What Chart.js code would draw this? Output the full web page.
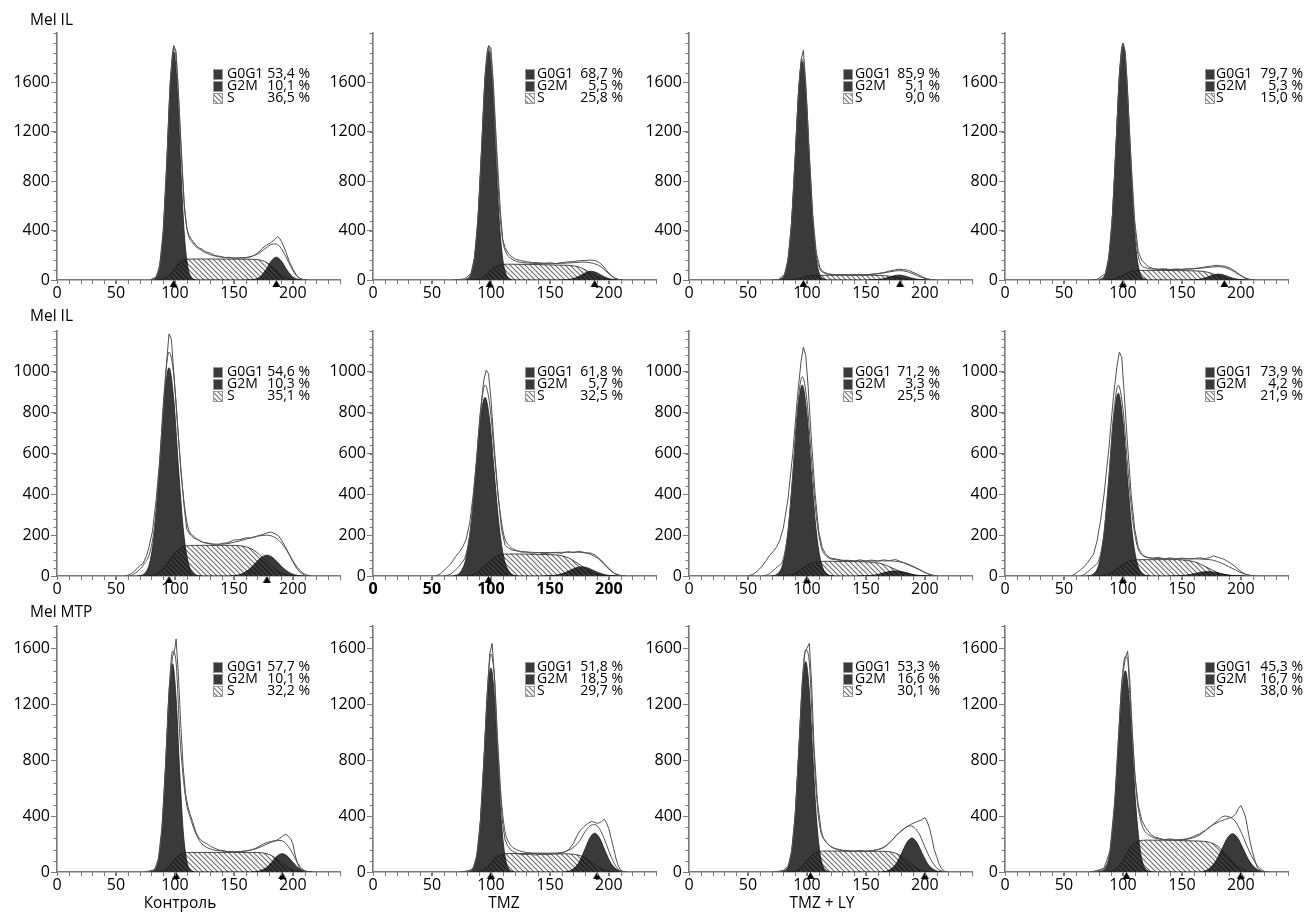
<!DOCTYPE html>
<html>
<head>
<meta charset="utf-8">
<script src="https://cdn.jsdelivr.net/npm/chart.js@4.4.1/dist/chart.umd.min.js"></script>
<style>
  body { margin: 0; background: #fff; width: 1305px; height: 916px; overflow: hidden; position: relative; font-family: "Open Sans", "DejaVu Sans", sans-serif; }
  canvas { position: absolute; }
  .lbl { position: absolute; font-size: 15.5px; line-height: 18px; color: #000; white-space: nowrap; }
</style>
</head>
<body>
<script>
// panel order: row by row (Mel IL, Mel IL, Mel MTP), columns Контроль, TMZ, TMZ + LY, 4th
const rowLabels = ['Mel IL', 'Mel IL', 'Mel MTP'];
const colLabels = ['Контроль', 'TMZ', 'TMZ + LY'];
const phaseNames = ['G0G1', 'G2M', 'S'];
const pctG0G1 = ['53,4', '68,7', '85,9', '79,7', '54,6', '61,8', '71,2', '73,9', '57,7', '51,8', '53,3', '45,3'];
const pctG2M = ['10,1', '5,5', '5,1', '5,3', '10,3', '5,7', '3,3', '4,2', '10,1', '18,5', '16,6', '16,7'];
const pctS = ['36,5', '25,8', '9,0', '15,0', '35,1', '32,5', '25,5', '21,9', '32,2', '29,7', '30,1', '38,0'];

const xTicks = [0, 50, 100, 150, 200];
const xMax = 240;
const yTicksByRow = [[0, 400, 800, 1200, 1600], [0, 200, 400, 600, 800, 1000], [0, 400, 800, 1200, 1600]];
const yMaxByRow = [2000, 1200, 1760];
const yMinorByRow = [80, 40, 80];

// triangles under the axis: G0G1 and G2M peak positions
const g1Marks = [99, 99, 97, 100, 95, 98, 100, 100, 101, 100, 103, 103];
const g2Marks = [186, 188, 179, 186, 178, null, null, null, 191, 190, 200, 200];

// G0G1 component (dark peak)
const g1Peaks = [
  [[80,0],[84,20],[87,104],[90,366],[93,901],[96,1545],[99,1850],[102,1545],[105,901],[108,366],[111,104],[114,20],[118,0]],
  [[78,0],[83,45],[86,173],[89,487],[92,1027],[95,1603],[98,1860],[101,1603],[104,1027],[107,487],[110,173],[113,45],[118,0]],
  [[76,0],[81,42],[84,165],[87,464],[90,977],[93,1526],[96,1770],[99,1526],[102,977],[105,464],[108,165],[111,42],[116,0]],
  [[80,0],[85,46],[88,177],[91,498],[94,1049],[97,1638],[100,1900],[103,1638],[106,1049],[109,498],[112,177],[115,46],[120,0]],
  [[68,0],[74,11],[79,74],[83,235],[87,531],[91,866],[95,1020],[99,866],[103,531],[107,235],[111,74],[116,11],[122,0]],
  [[68,0],[74,18],[79,90],[83,243],[87,495],[91,760],[95,875],[99,760],[103,495],[107,243],[111,90],[116,18],[122,0]],
  [[69,0],[75,10],[80,68],[84,215],[88,487],[92,794],[96,935],[100,794],[104,487],[108,215],[112,68],[117,10],[123,0]],
  [[69,0],[75,10],[80,65],[84,206],[88,466],[92,760],[96,895],[100,760],[104,466],[108,206],[112,65],[117,10],[123,0]],
  [[79,0],[83,16],[86,83],[89,295],[92,726],[95,1244],[98,1490],[101,1244],[104,726],[107,295],[110,83],[113,16],[117,0]],
  [[81,0],[85,26],[88,112],[91,346],[94,769],[97,1244],[100,1460],[103,1244],[106,769],[109,346],[112,112],[115,26],[119,0]],
  [[79,0],[84,36],[87,140],[90,394],[93,831],[96,1297],[99,1505],[102,1297],[105,831],[108,394],[111,140],[114,36],[119,0]],
  [[78,0],[84,16],[89,138],[93,468],[96,874],[99,1270],[102,1440],[105,1270],[108,874],[111,468],[115,138],[120,16],[126,0]]
];

// G2M component (dark peak)
const g2Peaks = [
  [[160,0],[166,3],[172,25],[177,81],[182,157],[186,185],[190,157],[195,81],[200,25],[206,3],[212,0]],
  [[159,0],[165,3],[171,15],[176,37],[181,62],[185,70],[189,62],[194,37],[199,15],[205,3],[211,0]],
  [[152,0],[158,2],[164,9],[169,21],[174,35],[178,40],[182,35],[187,21],[192,9],[198,2],[204,0]],
  [[155,0],[161,2],[167,10],[172,25],[177,42],[181,48],[185,42],[190,25],[195,10],[201,2],[207,0]],
  [[146,0],[152,3],[158,14],[164,38],[169,68],[174,94],[178,102],[182,94],[187,68],[192,38],[198,14],[204,3],[210,0]],
  [[145,0],[151,2],[157,6],[163,17],[168,30],[173,42],[177,45],[181,42],[186,30],[191,17],[197,6],[203,2],[209,0]],
  [[143,0],[149,1],[155,3],[161,9],[166,17],[171,23],[175,25],[179,23],[184,17],[189,9],[195,3],[201,1],[207,0]],
  [[140,0],[146,1],[152,3],[158,8],[163,15],[168,20],[172,22],[176,20],[181,15],[186,8],[192,3],[198,1],[204,0]],
  [[165,0],[171,6],[177,28],[182,70],[187,116],[191,131],[195,116],[200,70],[205,28],[211,6],[217,0]],
  [[162,0],[168,12],[174,60],[179,148],[184,245],[188,278],[192,245],[197,148],[202,60],[208,12],[214,0]],
  [[163,0],[169,11],[175,52],[180,129],[185,214],[189,243],[193,214],[198,129],[203,52],[209,11],[215,0]],
  [[167,0],[173,23],[179,82],[184,166],[189,248],[193,274],[197,248],[202,166],[207,82],[213,23],[219,0]]
];

// S phase (hatched band)
const sPhase = [
  [[84,0],[89,4],[94,27],[99,85],[104,143],[109,166],[114,170],[164,168],[171,164],[178,141],[185,84],[192,27],[199,4],[206,0]],
  [[82,0],[87,3],[93,20],[98,64],[104,108],[109,125],[115,128],[160,120],[168,117],[176,101],[184,60],[192,19],[200,3],[208,0]],
  [[80,0],[85,1],[90,6],[96,19],[101,32],[107,37],[112,38],[153,38],[161,37],[169,32],[177,19],[185,6],[193,1],[201,0]],
  [[84,0],[89,2],[94,12],[100,39],[106,66],[111,76],[116,78],[156,75],[164,73],[172,63],[180,38],[188,12],[196,2],[204,0]],
  [[74,0],[81,3],[88,24],[95,75],[102,126],[109,147],[116,150],[147,150],[157,147],[167,126],[177,75],[187,24],[197,3],[207,0]],
  [[73,0],[80,2],[88,17],[95,54],[103,91],[110,106],[118,108],[146,105],[156,103],[166,88],[176,53],[186,17],[196,2],[206,0]],
  [[75,0],[82,2],[89,11],[96,36],[103,61],[110,70],[117,72],[144,70],[154,68],[164,59],[174,35],[184,11],[194,2],[204,0]],
  [[75,0],[82,2],[89,13],[96,40],[103,67],[110,78],[117,80],[142,80],[152,78],[162,67],[172,40],[182,13],[192,2],[202,0]],
  [[83,0],[88,3],[93,22],[98,70],[103,118],[108,137],[113,140],[166,140],[174,137],[182,118],[190,70],[198,22],[206,3],[214,0]],
  [[84,0],[89,3],[95,21],[100,66],[105,111],[111,129],[116,132],[162,130],[170,127],[178,109],[186,65],[194,21],[202,3],[210,0]],
  [[83,0],[88,3],[94,24],[99,75],[105,126],[110,147],[116,150],[162,148],[170,145],[178,124],[186,74],[194,24],[202,3],[210,0]],
  [[84,0],[90,5],[96,36],[102,114],[108,192],[114,223],[120,228],[162,222],[171,217],[180,187],[189,111],[198,35],[207,5],[216,0]]
];

// model envelope (smooth outline)
const fitLines = [
  [[80,0],[84,22],[87,108],[90,375],[93,925],[96,1590],[99,1880],[102,1680],[105,1100],[108,600],[111,380],[115,300],[120,255],[130,205],[140,185],[150,178],[160,182],[170,210],[176,250],[181,285],[185,292],[189,270],[194,190],[199,95],[203,35],[208,5],[212,0]],
  [[78,0],[83,47],[86,176],[89,495],[92,1045],[95,1645],[98,1890],[101,1700],[104,1150],[107,620],[110,320],[113,220],[117,175],[122,150],[130,138],[140,133],[150,132],[160,135],[170,140],[178,145],[184,140],[190,125],[195,95],[200,50],[205,15],[210,0]],
  [[76,0],[81,42],[84,166],[87,467],[90,983],[93,1538],[96,1790],[99,1560],[102,1010],[105,500],[108,200],[111,90],[115,55],[120,45],[130,42],[140,42],[150,44],[160,50],[168,62],[174,72],[179,76],[184,70],[190,50],[196,25],[202,8],[208,0]],
  [[80,0],[85,46],[88,179],[91,503],[94,1061],[97,1661],[100,1920],[103,1693],[106,1115],[109,571],[112,253],[115,130],[119,100],[124,90],[130,86],[140,85],[150,86],[160,90],[168,98],[175,105],[181,108],[187,100],[193,75],[198,45],[203,18],[208,3],[212,0]],
  [[62,0],[66,12],[70,32],[74,60],[79,120],[83,260],[87,550],[91,910],[95,1097],[99,985],[103,680],[107,400],[111,240],[116,195],[122,170],[130,158],[140,156],[150,165],[160,180],[170,195],[178,200],[185,188],[192,150],[198,95],[204,40],[210,10],[216,0]],
  [[60,0],[66,10],[70,30],[74,55],[79,110],[83,250],[87,510],[91,795],[95,935],[99,840],[103,590],[107,350],[111,200],[116,145],[122,125],[130,118],[140,115],[150,115],[160,116],[170,117],[178,115],[185,105],[192,80],[198,45],[204,15],[210,2],[214,0]],
  [[62,0],[68,10],[72,30],[75,45],[80,85],[84,225],[88,500],[92,820],[96,976],[100,860],[104,560],[108,290],[112,145],[117,95],[124,80],[132,75],[140,74],[150,73],[160,74],[170,74],[178,70],[185,60],[192,42],[198,24],[204,8],[210,0]],
  [[64,0],[68,10],[72,30],[75,45],[80,85],[84,215],[88,480],[92,785],[96,935],[100,820],[104,540],[108,290],[112,150],[117,100],[124,88],[132,85],[140,84],[150,84],[160,84],[168,82],[176,78],[184,62],[190,45],[196,28],[202,12],[208,3],[214,0]],
  [[76,0],[80,8],[83,20],[86,90],[89,310],[92,750],[95,1290],[98,1580],[101,1500],[104,1000],[107,680],[110,480],[113,390],[117,290],[122,210],[130,165],[140,150],[150,145],[160,150],[170,170],[178,200],[185,222],[190,225],[195,195],[200,130],[205,50],[210,10],[214,0]],
  [[78,0],[82,8],[85,28],[88,116],[91,355],[94,790],[97,1290],[100,1560],[103,1390],[106,900],[109,500],[112,290],[116,200],[122,160],[130,140],[140,135],[150,135],[160,140],[168,165],[175,220],[180,290],[184,330],[188,340],[192,310],[196,240],[200,150],[204,70],[208,20],[212,2],[215,0]],
  [[76,0],[80,8],[84,38],[87,145],[90,405],[93,855],[96,1345],[99,1590],[102,1500],[105,1000],[108,560],[111,320],[115,230],[120,185],[128,160],[140,150],[152,150],[160,160],[166,180],[172,225],[178,280],[184,320],[188,330],[192,310],[196,260],[200,180],[205,90],[210,30],[215,5],[218,0]],
  [[74,0],[78,8],[84,25],[89,145],[93,490],[96,915],[99,1345],[102,1540],[104,1520],[106,1250],[109,850],[112,520],[115,370],[118,300],[122,265],[128,240],[135,232],[145,230],[155,235],[165,265],[172,310],[180,365],[186,400],[190,395],[195,365],[200,290],[205,190],[210,100],[215,35],[220,5],[224,0]]
];

// measured histogram (jagged outline)
const dataLines = [
  [[79,0],[84,25],[87,115],[90,390],[93,940],[96,1600],[99,1900],[101,1850],[103,1500],[106,950],[108,600],[110,420],[112,360],[114,330],[117,290],[120,262],[123,250],[126,228],[130,218],[134,198],[138,192],[142,182],[146,184],[150,176],[155,179],[160,178],[165,190],[170,215],[174,255],[178,285],[181,300],[184,322],[187,350],[189,335],[191,300],[194,230],[197,150],[200,90],[203,40],[206,12],[210,0]],
  [[68,0],[74,4],[78,12],[83,50],[86,180],[89,500],[92,1050],[95,1650],[98,1900],[100,1880],[102,1600],[105,1050],[108,560],[110,330],[112,262],[115,212],[118,186],[121,168],[125,158],[130,148],[135,142],[140,140],[145,136],[150,139],[155,133],[160,141],[165,146],[170,150],[175,156],[180,158],[185,162],[189,155],[192,140],[195,115],[198,80],[201,45],[204,20],[208,5],[212,0]],
  [[70,0],[76,4],[81,45],[84,170],[87,470],[90,990],[93,1550],[95,1780],[97,1860],[99,1600],[102,1030],[105,520],[108,220],[111,100],[114,65],[118,50],[124,42],[130,45],[136,40],[142,44],[148,41],[154,46],[160,52],[166,62],[171,75],[175,82],[178,88],[182,84],[186,79],[190,62],[194,45],[198,25],[202,10],[206,2],[210,0]],
  [[72,0],[78,5],[85,50],[88,185],[91,510],[94,1070],[97,1670],[100,1915],[102,1850],[104,1500],[107,950],[110,480],[113,230],[116,160],[119,130],[122,105],[126,92],[130,88],[135,91],[140,85],[145,89],[150,86],[155,91],[160,92],[165,99],[170,106],[175,113],[179,119],[183,115],[187,111],[191,95],[195,72],[199,45],[203,20],[207,6],[212,0]],
  [[58,0],[62,8],[66,25],[70,50],[73,62],[76,100],[78,142],[81,220],[84,370],[87,560],[90,800],[93,1050],[95,1186],[97,1160],[99,1000],[102,760],[105,520],[108,330],[110,230],[113,202],[116,186],[120,176],[124,164],[128,162],[132,154],[136,151],[140,160],[145,163],[150,176],[155,178],[160,187],[165,186],[170,196],[175,204],[179,213],[182,215],[185,206],[188,196],[191,170],[194,140],[197,105],[200,70],[203,40],[206,18],[210,4],[214,0]],
  [[53,0],[57,10],[62,37],[66,60],[70,95],[73,115],[76,140],[79,180],[82,260],[85,400],[88,580],[91,800],[94,960],[96,1008],[98,990],[100,870],[103,620],[106,400],[109,230],[112,150],[115,136],[118,127],[122,123],[126,117],[130,117],[135,111],[140,115],[145,109],[150,113],[155,114],[160,111],[165,119],[170,115],[175,121],[180,114],[185,112],[189,100],[193,80],[197,55],[201,32],[205,12],[210,2],[214,0]],
  [[50,0],[55,10],[59,30],[62,48],[65,72],[68,98],[71,118],[74,140],[77,175],[80,235],[84,380],[88,600],[92,880],[95,1050],[97,1121],[99,1080],[101,930],[104,650],[107,400],[110,220],[113,140],[116,105],[120,88],[125,83],[130,77],[135,77],[140,73],[145,79],[150,74],[155,78],[160,73],[165,79],[170,75],[175,81],[179,72],[183,63],[187,52],[191,42],[195,32],[199,20],[203,10],[207,3],[211,0]],
  [[56,0],[60,12],[64,30],[67,45],[70,65],[73,90],[75,105],[78,170],[81,270],[84,400],[88,620],[92,880],[95,1030],[97,1097],[99,1070],[101,900],[104,640],[107,400],[110,230],[113,140],[116,105],[120,93],[125,87],[130,91],[135,84],[140,89],[145,83],[150,88],[155,84],[160,85],[165,89],[170,85],[174,91],[177,99],[180,92],[184,86],[188,75],[192,60],[196,42],[200,22],[204,8],[208,2],[212,0]],
  [[74,0],[78,6],[81,12],[83,22],[86,95],[89,320],[92,760],[95,1300],[98,1540],[100,1600],[101,1667],[103,1400],[105,1050],[107,750],[109,560],[111,470],[113,410],[115,360],[118,280],[121,236],[124,214],[127,203],[130,184],[134,169],[138,156],[142,151],[146,144],[150,144],[155,146],[160,151],[164,156],[168,168],[172,186],[175,201],[178,211],[182,219],[186,227],[189,240],[192,262],[194,270],[196,258],[198,240],[200,202],[202,120],[204,60],[206,25],[209,6],[213,0]],
  [[74,0],[78,5],[82,12],[85,30],[88,120],[91,360],[94,800],[97,1300],[99,1560],[101,1636],[103,1400],[105,1000],[108,560],[110,340],[112,230],[114,190],[117,155],[120,141],[124,128],[128,125],[133,127],[138,121],[143,127],[148,123],[153,129],[158,131],[162,141],[166,160],[170,205],[173,260],[176,300],[179,326],[182,345],[185,362],[188,355],[191,348],[194,362],[196,378],[198,352],[200,310],[202,240],[204,170],[206,100],[208,45],[210,15],[213,0]],
  [[72,0],[76,5],[80,12],[84,40],[87,150],[90,410],[93,860],[96,1350],[98,1560],[100,1600],[102,1636],[104,1350],[106,900],[109,500],[112,300],[114,240],[117,207],[121,176],[125,162],[130,152],[135,151],[140,147],[145,153],[150,147],[155,153],[160,160],[164,172],[168,195],[172,226],[176,265],[180,291],[184,320],[188,340],[191,352],[194,362],[197,372],[200,390],[202,360],[204,314],[206,240],[208,160],[210,110],[212,60],[214,25],[217,5],[220,0]],
  [[72,0],[76,6],[80,15],[84,28],[89,150],[93,500],[96,930],[99,1360],[102,1530],[104,1580],[106,1350],[108,1000],[110,700],[113,480],[116,370],[119,320],[121,298],[124,266],[127,250],[131,241],[135,231],[140,237],[145,228],[150,232],[155,239],[160,254],[165,273],[170,299],[174,326],[178,344],[182,361],[186,374],[190,386],[193,393],[196,420],[198,455],[200,476],[202,440],[204,393],[206,300],[208,210],[210,140],[212,80],[214,30],[217,8],[220,0]]
];

// ---- layout / style (not data) ----
const axisGrey = '#7a7a7a';
const peakFill = '#3a3a3a';
const edgeColor = '#1a1a1a';
const traceColor = '#505050';
const fontFamily = '"Open Sans", "DejaVu Sans", sans-serif';
const colLeft = [57, 373, 689, 1005];
const rowTop = [33, 331, 626];
const rowBottom = [280, 576, 872];
const plotW = 283;
const yAxisW = 52, xAxisH = 22, padTop = 12, padRight = 22, padBottom = 8;
const legendCols = [[156, 170, 253], [152, 164, 250], [154, 166, 251], [200, 211, 298]];
const legendTop = 41;
const legendStep = 12;

function makeHatch() {
  const c = document.createElement('canvas');
  c.width = c.height = 5;
  const g = c.getContext('2d');
  g.strokeStyle = 'rgba(0,0,0,0.58)';
  g.lineWidth = 1.1;
  g.beginPath();
  g.moveTo(-1, -1); g.lineTo(6, 6);
  g.moveTo(-1, 4); g.lineTo(1, 6);
  g.moveTo(4, -1); g.lineTo(6, 1);
  g.stroke();
  return g.createPattern(c, 'repeat');
}
const hatch = makeHatch();

function makeMarker() {
  const c = document.createElement('canvas');
  c.width = 9; c.height = 18;
  const g = c.getContext('2d');
  g.fillStyle = '#000';
  g.beginPath();
  g.moveTo(4.5, 9); g.lineTo(8.5, 16); g.lineTo(0.5, 16);
  g.closePath(); g.fill();
  return c;
}
const markerImg = makeMarker();

const toXY = pts => pts.map(p => ({ x: p[0], y: p[1] }));

const panelDeco = {
  id: 'panelDeco',
  afterDraw(chart, args, o) {
    const { ctx, chartArea } = chart;
    const x = chart.scales.x, y = chart.scales.y;
    ctx.save();
    // minor ticks
    ctx.strokeStyle = axisGrey;
    ctx.lineWidth = 1;
    ctx.beginPath();
    for (let v = 0; v <= xMax; v += 10) {
      const px = Math.round(x.getPixelForValue(v)) + 0.5;
      ctx.moveTo(px, chartArea.bottom); ctx.lineTo(px, chartArea.bottom + 4);
    }
    for (let v = 0; v <= y.max; v += o.yMinor) {
      const py = Math.round(y.getPixelForValue(v)) + 0.5;
      ctx.moveTo(chartArea.left - 3.5, py); ctx.lineTo(chartArea.left, py);
    }
    ctx.stroke();
    // legend
    const [sqX, txX, rgX] = o.cols;
    ctx.font = '14px ' + fontFamily;
    ctx.textBaseline = 'middle';
    for (let k = 0; k < 3; k++) {
      const cy = chartArea.top + legendTop + k * legendStep;
      const sx = chartArea.left + sqX;
      ctx.fillStyle = k === 2 ? '#fff' : peakFill;
      ctx.fillRect(sx, cy - 5, 10, 11);
      if (k === 2) { ctx.fillStyle = hatch; ctx.fillRect(sx, cy - 5, 10, 11); }
      ctx.strokeStyle = '#9a9a9a';
      ctx.strokeRect(sx + 0.5, cy - 4.5, 9, 10);
      ctx.fillStyle = '#000';
      ctx.textAlign = 'left';
      ctx.fillText(phaseNames[k], chartArea.left + txX, cy);
      ctx.textAlign = 'right';
      ctx.fillText(o.values[k] + ' %', chartArea.left + rgX, cy);
    }
    ctx.restore();
  }
};

function addLabel(text, left, top, center) {
  const d = document.createElement('div');
  d.className = 'lbl';
  d.textContent = text;
  d.style.left = left + 'px';
  d.style.top = top + 'px';
  if (center) d.style.transform = 'translateX(-50%)';
  document.body.appendChild(d);
}

for (let r = 0; r < 3; r++) {
  for (let c = 0; c < 4; c++) {
    const i = r * 4 + c;
    const cv = document.createElement('canvas');
    const w = yAxisW + plotW + padRight;
    const h = padTop + (rowBottom[r] - rowTop[r]) + xAxisH + padBottom;
    cv.width = w; cv.height = h;
    cv.style.left = (colLeft[c] - yAxisW) + 'px';
    cv.style.top = (rowTop[r] - padTop) + 'px';
    document.body.appendChild(cv);

    const marks = [g1Marks[i], g2Marks[i]].filter(v => v !== null).map(v => ({ x: v, y: 0 }));
    const yTicks = yTicksByRow[r];
    const peakStyle = { backgroundColor: peakFill, borderColor: edgeColor, borderWidth: 0.8, fill: 'origin', pointRadius: 0, cubicInterpolationMode: 'monotone' };

    new Chart(cv, {
      type: 'line',
      data: {
        datasets: [
          { data: marks, showLine: false, pointStyle: markerImg, pointRadius: 5, clip: false },
          { data: toXY(dataLines[i]), borderColor: traceColor, borderWidth: 1, pointRadius: 0, fill: false, tension: 0 },
          { data: toXY(fitLines[i]), borderColor: traceColor, borderWidth: 1, pointRadius: 0, fill: false, cubicInterpolationMode: 'monotone' },
          { data: toXY(sPhase[i]), backgroundColor: hatch, borderColor: edgeColor, borderWidth: 0.8, fill: 'origin', pointRadius: 0, cubicInterpolationMode: 'monotone' },
          Object.assign({ data: toXY(g2Peaks[i]) }, peakStyle),
          Object.assign({ data: toXY(g1Peaks[i]) }, peakStyle)
        ]
      },
      options: {
        responsive: false,
        animation: false,
        events: [],
        layout: { padding: { left: 0, right: padRight, top: padTop, bottom: padBottom } },
        plugins: {
          legend: { display: false },
          tooltip: { enabled: false },
          panelDeco: { yMinor: yMinorByRow[r], cols: legendCols[c], values: [pctG0G1[i], pctG2M[i], pctS[i]] }
        },
        scales: {
          x: {
            type: 'linear', min: 0, max: xMax,
            afterFit: s => { s.height = xAxisH; },
            afterBuildTicks: s => { s.ticks = xTicks.map(v => ({ value: v })); },
            grid: { drawOnChartArea: false, tickLength: 4, tickColor: axisGrey },
            border: { color: axisGrey, width: 1.6 },
            ticks: { color: '#000', padding: 0, maxRotation: 0, autoSkip: false, font: { family: fontFamily, size: 16, weight: i === 5 ? 'bold' : 'normal' }, callback: v => String(v) }
          },
          y: {
            min: 0, max: yMaxByRow[r],
            afterFit: s => { s.width = yAxisW; },
            afterBuildTicks: s => { s.ticks = yTicks.map(v => ({ value: v })); },
            grid: { drawOnChartArea: false, tickLength: 6, tickColor: axisGrey },
            border: { color: axisGrey, width: 1.6 },
            ticks: { color: '#000', padding: 1, autoSkip: false, font: { family: fontFamily, size: 16 }, callback: v => String(v) }
          }
        }
      },
      plugins: [panelDeco]
    });
  }
}

addLabel(rowLabels[0], 30, 10, false);
addLabel(rowLabels[1], 30, 306, false);
addLabel(rowLabels[2], 30, 602, false);
addLabel(colLabels[0], 180, 893, true);
addLabel(colLabels[1], 504, 893, true);
addLabel(colLabels[2], 822, 893, true);
</script>
</body>
</html>
